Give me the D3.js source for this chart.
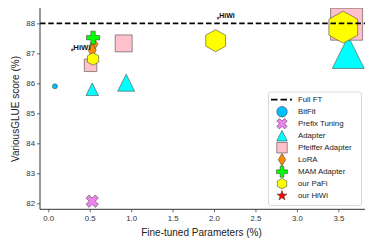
<!DOCTYPE html>
<html>
<head>
<meta charset="utf-8">
<script src="https://cdn.jsdelivr.net/npm/d3@7"></script>
<style>
  body { margin: 0; background: #fff; }
  text { font-family: "Liberation Sans", Arial, sans-serif; }
</style>
</head>
<body>
<script>
// series names, in legend order
var seriesNames = ["BitFit", "Prefix Tuning", "Adapter", "Pfeiffer Adapter", "LoRA", "MAM Adapter", "our PaFi", "our HiWi"];

// values (fine-tuned params %, score %), plus model tier
var bitfitX = [0.08], bitfitY = [85.9], bitfitTier = ["xs"];
var prefixX = [0.53], prefixY = [82.07], prefixTier = ["s"];
var adapterX = [0.53, 0.94, 3.62], adapterY = [85.8, 86.02, 87.03], adapterTier = ["s", "m", "l"];
var pfeifferX = [0.51, 0.91, 3.6], pfeifferY = [86.6, 87.33, 87.97], pfeifferTier = ["s", "m", "l"];
var loraX = [0.55, 0.53], loraY = [87.3, 87.1], loraTier = ["s", "s"];
var mamX = [0.54], mamY = [87.52], mamTier = ["s"];
var pafiX = [0.54, 2.02, 3.56], pafiY = [86.81, 87.42, 87.87], pafiTier = ["s", "m2", "l"];
var hiwiX = [0.29, 2.05], hiwiY = [87.11, 88.17], hiwiTier = ["xs", "xs"];
var hiwiLabels = ["HiWi", "HiWi"];

var fullFT = 88;
var xTicks = [0.0, 0.5, 1.0, 1.5, 2.0, 2.5, 3.0, 3.5];
var yTicks = [82, 83, 84, 85, 86, 87, 88];

const canvWidth = 374, canvHeight = 249;
const plot = {left: 40, right: 365, top: 8, bottom: 209.3};

const svg = d3.select("body").append("svg")
    .attr("width", canvWidth)
    .attr("height", canvHeight);

var xScale = d3.scaleLinear().domain([-0.1, 3.822]).range([plot.left, plot.right]);
var yScale = d3.scaleLinear().domain([81.8, 88.51]).range([plot.bottom, plot.top]);

// tier -> marker size in px
var sizeScale = d3.scaleOrdinal().domain(["xs", "s", "m", "m2", "l"]).range([5, 12.5, 17, 22, 32]);

// marker shapes, s = nominal size
function polyPath(pts) {
    return "M" + pts.map(p => p[0].toFixed(2) + "," + p[1].toFixed(2)).join("L") + "Z";
}
function plusPts(s) {
    var a = s / 2, b = s / 6;
    return [[-b, -a], [b, -a], [b, -b], [a, -b], [a, b], [b, b], [b, a], [-b, a], [-b, b], [-a, b], [-a, -b], [-b, -b]];
}
var shapes = {
    circle: function (s) {
        var r = s / 2;
        return "M" + (-r) + ",0A" + r + "," + r + " 0 1,0 " + r + ",0A" + r + "," + r + " 0 1,0 " + (-r) + ",0Z";
    },
    x: function (s) {
        var c = Math.SQRT1_2;
        return polyPath(plusPts(s * 1.05).map(p => [(p[0] - p[1]) * c, (p[0] + p[1]) * c]));
    },
    triangle: function (s) {
        return polyPath([[0, -s / 2], [s / 2, s / 2], [-s / 2, s / 2]]);
    },
    square: function (s) {
        return polyPath([[-s / 2, -s / 2], [s / 2, -s / 2], [s / 2, s / 2], [-s / 2, s / 2]]);
    },
    diamond: function (s) {
        var h = s * 0.55, w = s * 0.32;
        return polyPath([[0, -h], [w, 0], [0, h], [-w, 0]]);
    },
    plus: function (s) {
        return polyPath(plusPts(s * 1.05));
    },
    hexagon: function (s) {
        var r = s / 2, pts = [];
        for (var i = 0; i < 6; i++) {
            var a = -Math.PI / 2 + i * Math.PI / 3;
            pts.push([r * 1.04 * Math.cos(a), r * Math.sin(a)]);
        }
        return polyPath(pts);
    },
    star: function (s) {
        var r = s / 2, ri = r * 0.4, pts = [];
        for (var i = 0; i < 10; i++) {
            var a = -Math.PI / 2 + i * Math.PI / 5;
            var rr = i % 2 ? ri : r;
            pts.push([rr * Math.cos(a), rr * Math.sin(a)]);
        }
        return polyPath(pts);
    }
};

var seriesList = [
    {name: seriesNames[0], xs: bitfitX, ys: bitfitY, tiers: bitfitTier, shape: "circle", color: "#00bfff", k: 1},
    {name: seriesNames[1], xs: prefixX, ys: prefixY, tiers: prefixTier, shape: "x", color: "#ee82ee", k: 1},
    {name: seriesNames[2], xs: adapterX, ys: adapterY, tiers: adapterTier, shape: "triangle", color: "#00ffff", k: 1},
    {name: seriesNames[3], xs: pfeifferX, ys: pfeifferY, tiers: pfeifferTier, shape: "square", color: "#ffc0cb", k: 1},
    {name: seriesNames[4], xs: loraX, ys: loraY, tiers: loraTier, shape: "diamond", color: "#ff8c00", k: 1},
    {name: seriesNames[5], xs: mamX, ys: mamY, tiers: mamTier, shape: "plus", color: "#00ff00", k: 1},
    {name: seriesNames[6], xs: pafiX, ys: pafiY, tiers: pafiTier, shape: "hexagon", color: "#ffff00", k: 1},
    {name: seriesNames[7], xs: hiwiX, ys: hiwiY, tiers: hiwiTier, shape: "star", color: "#ff0000", k: 0.55}
];

svg.append("clipPath").attr("id", "plotClip")
    .append("rect")
    .attr("x", plot.left).attr("y", plot.top)
    .attr("width", plot.right - plot.left).attr("height", plot.bottom - plot.top);

const markers = svg.append("g").attr("clip-path", "url(#plotClip)");

seriesList.forEach(function (ser) {
    var pts = ser.xs.map((x, i) => ({x: x, y: ser.ys[i], tier: ser.tiers[i]}));
    markers.selectAll(null)
        .data(pts).enter()
        .append("path")
        .attr("transform", d => "translate(" + xScale(d.x) + "," + yScale(d.y) + ")")
        .attr("d", d => shapes[ser.shape](sizeScale(d.tier) * ser.k))
        .attr("fill", ser.color)
        .attr("stroke", "#4a4a4a")
        .attr("stroke-width", 0.6);
});

// HiWi labels
svg.selectAll(".hiwiLabel")
    .data(hiwiX).enter()
    .append("text")
    .attr("class", "hiwiLabel")
    .attr("x", (d, i) => xScale(d) + 1)
    .attr("y", (d, i) => yScale(hiwiY[i]) - 0.5)
    .attr("font-size", (d, i) => i === 0 ? "7.8px" : "7px")
    .attr("font-weight", "bold")
    .attr("fill", "#111")
    .text((d, i) => hiwiLabels[i]);

// full fine-tuning reference line
svg.append("line")
    .attr("x1", plot.left).attr("x2", plot.right)
    .attr("y1", yScale(fullFT)).attr("y2", yScale(fullFT))
    .attr("stroke", "#000")
    .attr("stroke-width", 1.8)
    .attr("stroke-dasharray", "5.5,2.8");

// axes
var xAxis = d3.axisBottom(xScale).tickValues(xTicks).tickFormat(d3.format(".1f")).tickSize(3).tickPadding(3);
var yAxis = d3.axisLeft(yScale).tickValues(yTicks).tickFormat(d3.format("d")).tickSize(3).tickPadding(2);

var gx = svg.append("g")
    .attr("transform", "translate(0," + plot.bottom + ")")
    .call(xAxis);
gx.select(".domain").attr("d", "M" + plot.left + ",0H" + plot.right);

var gy = svg.append("g")
    .attr("transform", "translate(" + plot.left + ",0)")
    .call(yAxis);
gy.select(".domain").attr("d", "M0," + plot.top + "V" + plot.bottom);

[gx, gy].forEach(function (g) {
    g.select(".domain").attr("stroke", "#333").attr("stroke-width", 1);
    g.selectAll(".tick line").attr("stroke", "#444").attr("stroke-width", 0.8);
    g.selectAll(".tick text")
        .attr("font-family", "Liberation Sans, Arial, sans-serif")
        .attr("font-size", "7.8px")
        .attr("fill", "#333");
});

svg.append("text")
    .attr("x", (plot.left + plot.right) / 2 - 1)
    .attr("y", 236)
    .attr("text-anchor", "middle")
    .attr("font-size", "10px")
    .attr("fill", "#222")
    .text("Fine-tuned Parameters (%)");

svg.append("text")
    .attr("transform", "translate(19," + 109 + ") rotate(-90)")
    .attr("text-anchor", "middle")
    .attr("font-size", "10px")
    .attr("fill", "#222")
    .text("VariousGLUE score (%)");

// legend
const legend = svg.append("g");
legend.append("rect")
    .attr("x", 268.5).attr("y", 92)
    .attr("width", 93).attr("height", 113.5)
    .attr("rx", 2)
    .attr("fill", "#fff").attr("fill-opacity", 0.85)
    .attr("stroke", "#d0d0d0").attr("stroke-width", 0.8);

var legendItems = [{name: "Full FT", shape: null}].concat(seriesList);
var rowY = d3.scaleLinear().domain([0, 1]).range([99.7, 111.7]);

legendItems.forEach(function (item, i) {
    var y = rowY(i);
    if (item.shape === null) {
        legend.append("line")
            .attr("x1", 271).attr("x2", 292)
            .attr("y1", y).attr("y2", y)
            .attr("stroke", "#000").attr("stroke-width", 1.8)
            .attr("stroke-dasharray", "6.5,3");
    } else {
        legend.append("path")
            .attr("transform", "translate(282," + y + ")")
            .attr("d", shapes[item.shape](item.shape === "diamond" ? 11.5 : 10.5))
            .attr("fill", item.color)
            .attr("stroke", "#4a4a4a")
            .attr("stroke-width", 0.6);
    }
    legend.append("text")
        .attr("x", 298)
        .attr("y", y + 2.7)
        .attr("font-size", "7.8px")
        .attr("fill", "#222")
        .text(item.name);
});
</script>
</body>
</html>
